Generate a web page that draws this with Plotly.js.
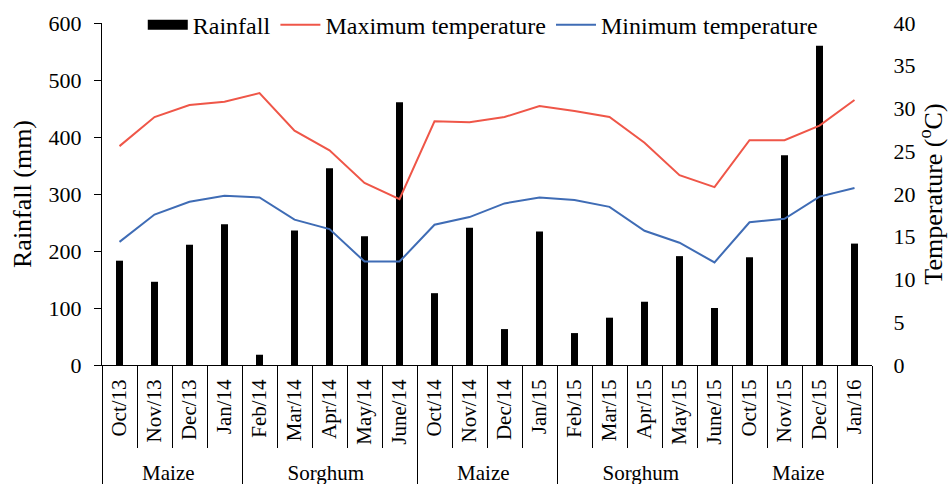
<!DOCTYPE html>
<html>
<head>
<meta charset="utf-8">
<script src="https://cdn.plot.ly/plotly-3.0.1.min.js"></script>
<style>html,body{margin:0;padding:0;background:#fff;}#chart{width:948px;height:484px;}</style>
</head>
<body>
<div id="chart"></div>
<script>
// Crop seasons (zero-width space keeps repeated season names as separate groups)
const seasons = [
  "Maize","Maize","Maize","Maize",
  "Sorghum","Sorghum","Sorghum","Sorghum","Sorghum",
  "Maize\u200b","Maize\u200b","Maize\u200b","Maize\u200b",
  "Sorghum\u200b","Sorghum\u200b","Sorghum\u200b","Sorghum\u200b","Sorghum\u200b",
  "Maize\u200b\u200b","Maize\u200b\u200b","Maize\u200b\u200b","Maize\u200b\u200b"
];
const months = [
  "Oct/13","Nov/13","Dec/13","Jan/14",
  "Feb/14","Mar/14","Apr/14","May/14","June/14",
  "Oct/14","Nov/14","Dec/14","Jan/15",
  "Feb/15","Mar/15","Apr/15","May/15","June/15",
  "Oct/15","Nov/15","Dec/15","Jan/16"
];
const rainfall = [183,146,211,247, 18,236,345,226,461, 126,241,63,234, 56,83,111,191,100, 189,368,560,213];
const maxTemp  = [25.6,29.0,30.4,30.8, 31.8,27.4,25.1,21.3,19.4, 28.5,28.4,29.0,30.3, 29.7,29.0,26.0,22.2,20.8, 26.3,26.3,28.0,31.0];
const minTemp  = [14.4,17.6,19.1,19.8, 19.6,17.0,15.9,12.1,12.1, 16.4,17.3,18.9,19.6, 19.3,18.5,15.7,14.3,12.0, 16.7,17.1,19.7,20.7];

const font = "Liberation Serif, Times New Roman, serif";
const x = [seasons, months];

const traces = [
  {type:"bar", name:"Rainfall", x:x, y:rainfall, width:0.2, showlegend:false,
   marker:{color:"#000000", line:{width:0}}, yaxis:"y"},
  // legend key for rainfall (wide black block, as in the reference); no visible data
  {type:"scatter", mode:"lines", name:"Rainfall", x:[[seasons[0]],[months[0]]], y:[null], showlegend:true,
   line:{color:"#000000", width:12}, yaxis:"y", hoverinfo:"skip"},
  {type:"scatter", mode:"lines", name:"Maximum temperature", x:x, y:maxTemp,
   line:{color:"#EF5648", width:2}, yaxis:"y2"},
  {type:"scatter", mode:"lines", name:"Minimum temperature", x:x, y:minTemp,
   line:{color:"#3F6CB5", width:2}, yaxis:"y2"}
];

const layout = {
  width:948, height:484,
  margin:{l:102, r:65, t:23, b:119, autoexpand:false},
  paper_bgcolor:"#ffffff", plot_bgcolor:"#ffffff",
  font:{family:font, size:22, color:"#000"},
  showlegend:true,
  legend:{orientation:"h", x:0.0522, y:0.994, xanchor:"left", yanchor:"middle",
          font:{family:font, size:24, color:"#000"}, bgcolor:"rgba(0,0,0,0)",
          itemwidth:40, tracegroupgap:0},
  bargap:0.8,
  xaxis:{type:"multicategory", domain:[0, 0.98592], range:[-0.5,21.5], showline:true, linecolor:"#000", linewidth:1,
         ticks:"outside", tickson:"boundaries", ticklen:82, tickcolor:"#000", tickwidth:1,
         tickangle:-90, showdividers:true, dividercolor:"#000", dividerwidth:1,
         ticklabelstandoff:5,
         tickfont:{family:font, size:21, color:"#000"}, showgrid:false, zeroline:false},
  yaxis:{range:[0,600], dtick:100, showline:true, linecolor:"#000", linewidth:1,
         ticks:"outside", ticklen:7, tickcolor:"#000", showgrid:false, zeroline:false,
         ticklabelstandoff:8,
         tickfont:{family:font, size:22, color:"#000"},
         title:{text:"Rainfall (mm)", font:{family:font, size:26, color:"#000"}, standoff:9}},
  // temperature axis labels, set off to the right of the axis line
  yaxis2:{range:[0,40], dtick:5, overlaying:"y", side:"right", anchor:"free", position:1,
          showline:false, ticks:"outside", ticklen:5, tickcolor:"rgba(0,0,0,0)",
          showgrid:false, zeroline:false,
          tickfont:{family:font, size:22, color:"#000"},
          title:{text:"Temperature (<sup>o</sup>C)", font:{family:font, size:26, color:"#000"}, standoff:8}},
  // temperature axis line and tick marks at the end of the x axis
  yaxis3:{range:[0,40], dtick:5, overlaying:"y", side:"right", anchor:"x", showline:true,
          linecolor:"#000", linewidth:1, ticks:"outside", ticklen:5, tickcolor:"#000",
          showticklabels:false, showgrid:false, zeroline:false}
};

Plotly.newPlot("chart", traces, layout, {displayModeBar:false, staticPlot:true});
</script>
</body>
</html>
